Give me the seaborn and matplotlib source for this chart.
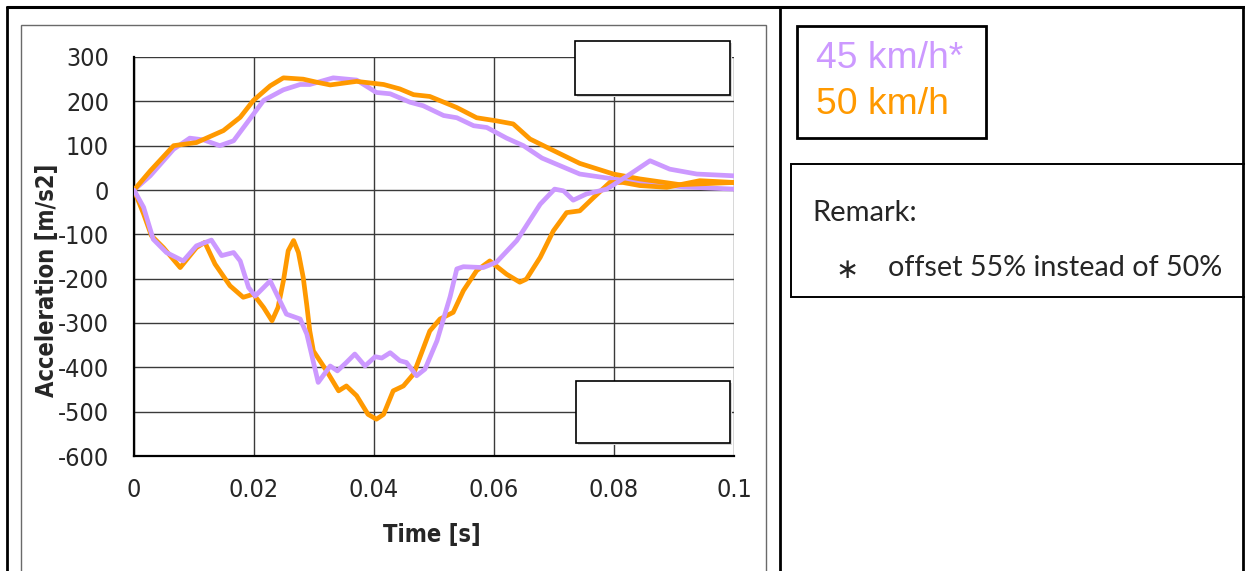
import numpy as np
import pandas as pd
import matplotlib
matplotlib.use("Agg")
import matplotlib.pyplot as plt
from matplotlib import font_manager
from matplotlib.font_manager import FontProperties
from matplotlib.patches import Rectangle
from matplotlib.lines import Line2D
from matplotlib.ticker import MultipleLocator
import seaborn as sns

# Data
t_50_pos = [0, 0.0027, 0.0066, 0.0104, 0.0149, 0.0177, 0.0199, 0.0227, 0.0249, 0.0282,
            0.0305, 0.0327, 0.0371, 0.0416, 0.0443, 0.0466, 0.0493, 0.0538, 0.0571, 0.0604,
            0.0632, 0.066, 0.0693, 0.0743, 0.0799, 0.0843, 0.091, 0.1]
a_50_pos = [0, 43, 100, 107, 134, 164, 202, 235, 253, 250,
            243, 237, 245, 238, 228, 215, 211, 186, 163, 156,
            149, 115, 93, 60, 36, 25, 12, 17]

t_45_pos = [0, 0.0027, 0.0066, 0.0093, 0.0116, 0.0143, 0.0166, 0.0193, 0.0216, 0.0249,
            0.0277, 0.0293, 0.0332, 0.0371, 0.0404, 0.0427, 0.046, 0.0482, 0.0516, 0.0538,
            0.0566, 0.0588, 0.0621, 0.0649, 0.068, 0.0743, 0.0799, 0.0854, 0.0916, 0.1]
a_45_pos = [0, 32, 92, 117, 113, 100, 111, 160, 202, 226,
            238, 238, 253, 248, 220, 217, 198, 190, 168, 163,
            145, 141, 117, 100, 72, 36, 25, 14, 7, 2]

t_50_neg = [0, 0.0016, 0.0029, 0.0049, 0.0077, 0.0104, 0.0118, 0.0135, 0.016, 0.0182,
            0.0199, 0.0216, 0.023, 0.024, 0.0249, 0.0257, 0.0266, 0.0274, 0.0282, 0.0288,
            0.0293, 0.0299, 0.0321, 0.0341, 0.0354, 0.0371, 0.039, 0.0404, 0.0416, 0.0432,
            0.0449, 0.0466, 0.0493, 0.051, 0.0532, 0.0549, 0.0571, 0.0593, 0.0621, 0.0643,
            0.0654, 0.0677, 0.0699, 0.0721, 0.0743, 0.0766, 0.0793, 0.0815, 0.0843, 0.0888,
            0.0943, 0.1]
a_50_neg = [0, -54, -103, -130, -175, -130, -118, -167, -216, -242,
            -235, -265, -295, -265, -205, -137, -114, -141, -197, -260,
            -318, -363, -408, -453, -442, -464, -506, -517, -506, -453,
            -442, -415, -318, -291, -276, -227, -182, -160, -190, -208,
            -201, -152, -92, -51, -47, -17, 17, 17, 10, 6,
            21, 17]

t_45_neg = [0, 0.0016, 0.0032, 0.0054, 0.0082, 0.0104, 0.0129, 0.0146, 0.0166, 0.0177,
            0.0191, 0.0202, 0.0227, 0.0254, 0.0277, 0.0288, 0.0307, 0.0327, 0.0339, 0.0354,
            0.0368, 0.0385, 0.0402, 0.0413, 0.0427, 0.0443, 0.0454, 0.0471, 0.0485, 0.0505,
            0.0516, 0.0527, 0.0538, 0.0549, 0.0582, 0.0604, 0.0638, 0.0677, 0.0701, 0.0716,
            0.0732, 0.0754, 0.0788, 0.0827, 0.086, 0.0893, 0.0938, 0.1]
a_45_neg = [0, -39, -111, -141, -160, -126, -113, -148, -141, -160,
            -220, -239, -205, -280, -291, -325, -434, -397, -408, -389,
            -370, -397, -376, -379, -367, -385, -389, -419, -404, -340,
            -290, -240, -178, -173, -175, -163, -114, -32, 2, -2,
            -23, -9, 2, 36, 66, 47, 36, 32]

x_ticks = [0, 0.02, 0.04, 0.06, 0.08, 0.1]
x_tick_labels = ["0", "0.02", "0.04", "0.06", "0.08", "0.1"]
y_ticks = list(range(-600, 301, 100))

series_labels = ["45 km/h*", "50 km/h"]
c45 = "#CC99FF"
c50 = "#FF9900"

W, H = 1245, 571
sns.set_style("white")
plt.rcParams['font.family'] = ['Liberation Sans', 'DejaVu Sans']
plt.rcParams['axes.unicode_minus'] = False

# look for a narrow sans (the chart uses Arial Narrow style text)
narrow_reg, narrow_bold = None, None
narrow_names = ('Liberation Sans Narrow', 'Arial Narrow', 'Roboto Condensed',
                'Open Sans Condensed', 'DejaVu Sans Condensed')
for f in font_manager.fontManager.ttflist:
    is_narrow = f.name in narrow_names or (
        f.name in ('DejaVu Sans', 'Noto Sans', 'Open Sans', 'Roboto', 'Liberation Sans')
        and f.stretch in ('condensed', 'semi-condensed', 'extra-condensed'))
    if not is_narrow or f.style != 'normal':
        continue
    w = f.weight if isinstance(f.weight, int) else (700 if 'bold' in str(f.weight) else 400)
    if w >= 600 and narrow_bold is None:
        narrow_bold = f.fname
    elif w < 600 and narrow_reg is None:
        narrow_reg = f.fname

if narrow_reg:
    tick_fp = FontProperties(fname=narrow_reg, size=18)
else:
    tick_fp = FontProperties(family='Liberation Sans', size=16)
if narrow_bold:
    lab_fp = FontProperties(fname=narrow_bold, size=17)
else:
    lab_fp = FontProperties(family='Liberation Sans', weight='bold', size=16)

fig = plt.figure(figsize=(W / 100, H / 100), dpi=100)


def fx(px):
    return px / W


def fy(py):
    return 1 - py / H


ax = fig.add_axes([fx(134), fy(456), fx(734) - fx(134), fy(57) - fy(456)])

for t, a, c in [(t_45_pos, a_45_pos, c45), (t_50_pos, a_50_pos, c50),
                (t_50_neg, a_50_neg, c50), (t_45_neg, a_45_neg, c45)]:
    sns.lineplot(x=t, y=a, color=c, linewidth=3.4, sort=False, estimator=None, ax=ax,
                 zorder=3, solid_joinstyle='round', solid_capstyle='round')

ax.set_xlim(0, 0.1)
ax.set_ylim(-600, 300)
ax.set_xticks(x_ticks)
ax.set_xticklabels(x_tick_labels)
ax.set_yticks(y_ticks)
ax.set_yticklabels([str(v) for v in y_ticks])
ax.xaxis.set_minor_locator(MultipleLocator(0.004))
ax.yaxis.set_minor_locator(MultipleLocator(20))
ax.grid(True, which='major', color='#3a3a3a', linewidth=1.0)
ax.set_axisbelow(True)
for s in ['top', 'right']:
    ax.spines[s].set_visible(False)
for s in ['left', 'bottom']:
    ax.spines[s].set_color('black')
    ax.spines[s].set_linewidth(1.6)
ax.tick_params(which='major', direction='out', length=6, width=1.3, color='black', pad=10)
ax.tick_params(which='minor', direction='in', length=5, width=1.3, color='black')
ax.tick_params(axis='y', which='major', pad=12)
for lab in ax.get_xticklabels() + ax.get_yticklabels():
    lab.set_fontproperties(tick_fp)

ax.set_xlabel("Time [s]", fontproperties=lab_fp)
ax.set_ylabel("Acceleration [m/s2]", fontproperties=lab_fp)
ax.xaxis.set_label_coords(0.497, -0.198)
ax.xaxis.label.set_va('center')
ax.yaxis.set_label_coords(-0.145, 0.44)
ax.yaxis.label.set_va('center')

# empty boxes inside the plot
for (x0, y0, x1, y1) in [(575, 41, 730, 95), (576, 381, 730, 443)]:
    fig.patches.append(Rectangle((fx(x0) + 0.002, fy(y1) - 0.003), fx(x1 - x0), fy(y0) - fy(y1),
                                 transform=fig.transFigure, facecolor='#d8d8d8',
                                 edgecolor='none', zorder=4))
    fig.patches.append(Rectangle((fx(x0), fy(y1)), fx(x1 - x0), fy(y0) - fy(y1),
                                 transform=fig.transFigure, facecolor='white',
                                 edgecolor='black', linewidth=1.2, zorder=5))

# chart area frame
fig.patches.append(Rectangle((fx(21), fy(600)), fx(766 - 21), fy(25) - fy(600),
                             transform=fig.transFigure, facecolor='none',
                             edgecolor='#6a6a6a', linewidth=1.0))

# table lines
fig.lines.append(Line2D([fx(7), fx(1245)], [fy(7), fy(7)], transform=fig.transFigure,
                        color='black', linewidth=2.2))
for xp in [7, 780, 1243]:
    fig.lines.append(Line2D([fx(xp), fx(xp)], [fy(7), fy(575)], transform=fig.transFigure,
                            color='black', linewidth=2.0))

# legend box
fig.patches.append(Rectangle((fx(797), fy(138)), fx(986 - 797), fy(26) - fy(138),
                             transform=fig.transFigure, facecolor='white',
                             edgecolor='black', linewidth=2.0))
fig.text(fx(816), fy(58), series_labels[0], color=c45, fontsize=26.8,
         family=['Liberation Sans', 'DejaVu Sans'], va='center', ha='left')
fig.text(fx(816), fy(104), series_labels[1], color=c50, fontsize=26.8,
         family=['Liberation Sans', 'DejaVu Sans'], va='center', ha='left')

# remark box
fig.patches.append(Rectangle((fx(791), fy(297)), fx(1246 - 791), fy(164) - fy(297),
                             transform=fig.transFigure, facecolor='white',
                             edgecolor='black', linewidth=1.4))
fig.text(fx(812), fy(213), "Remark:", fontsize=21, family=['Lato', 'DejaVu Sans'],
         va='center', ha='left')
fig.text(fx(847), fy(270), "\u2217", fontsize=20, family=['DejaVu Sans'],
         va='center', ha='center')
fig.text(fx(888), fy(268), "offset 55% instead of 50%", fontsize=20.7,
         family=['Lato', 'DejaVu Sans'], va='center', ha='left')

fig.savefig("out.png", dpi=100)
